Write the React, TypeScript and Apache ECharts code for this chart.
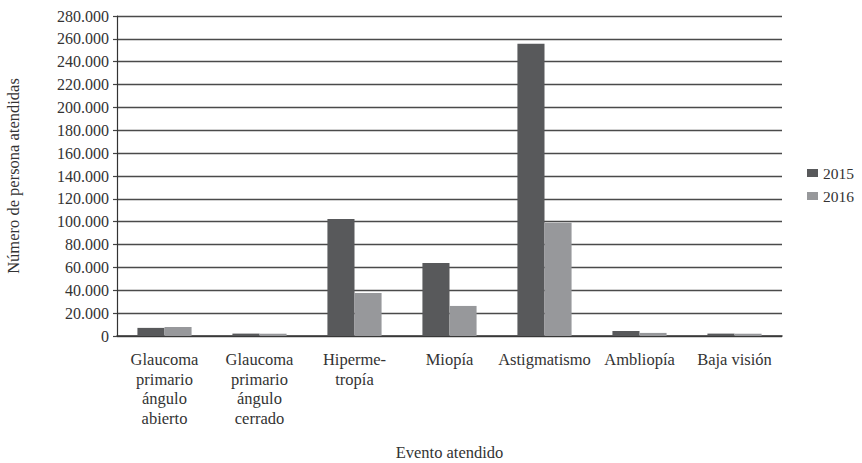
import React, { useEffect, useRef } from "react";
import * as echarts from "echarts";

const categories = [
  "Glaucoma\nprimario\nángulo\nabierto",
  "Glaucoma\nprimario\nángulo\ncerrado",
  "Hiperme-\ntropía",
  "Miopía",
  "Astigmatismo",
  "Ambliopía",
  "Baja visión",
];
const seriesNames = ["2015", "2016"];
const values2015 = [7100, 2100, 102300, 63900, 255700, 4400, 2100];
const values2016 = [7900, 2000, 37600, 26300, 99100, 2700, 2000];
const yMin = 0;
const yMax = 280000;
const yInterval = 20000;

const fmt = (v: number) => String(v).replace(/\B(?=(\d{3})+(?!\d))/g, ".");

export default function App() {
  const ref = useRef<HTMLDivElement>(null);
  useEffect(() => {
    if (!ref.current) return;
    document.documentElement.style.overflow = "hidden";
    document.body.style.overflow = "hidden";
    const chart = echarts.init(ref.current, undefined, { renderer: "svg" });
    const font = "Liberation Serif";
    chart.setOption({
      animation: false,
      backgroundColor: "#ffffff",
      textStyle: { fontFamily: font, color: "#333" },
      grid: {
        left: 117,
        right: 80,
        top: 16,
        bottom: 127,
        containLabel: false,
        outerBoundsMode: "none",
      },
      legend: {
        orient: "vertical",
        left: 802,
        top: 160,
        itemWidth: 11,
        itemHeight: 8,
        itemGap: 7,
        icon: "rect",
        data: seriesNames,
        textStyle: { fontFamily: font, fontSize: 15.5, color: "#333" },
      },
      xAxis: {
        type: "category",
        data: categories,
        name: "Evento atendido",
        nameLocation: "middle",
        nameGap: 108,
        nameTextStyle: { fontFamily: font, fontSize: 16.5, color: "#333" },
        axisLine: { lineStyle: { color: "#333", width: 1.5 } },
        axisTick: { show: false },
        axisLabel: {
          interval: 0,
          fontFamily: font,
          fontSize: 16.5,
          color: "#333",
          lineHeight: 19.5,
          margin: 14,
        },
      },
      yAxis: {
        type: "value",
        min: yMin,
        max: yMax,
        interval: yInterval,
        name: "Número de persona atendidas",
        nameLocation: "middle",
        nameGap: 95,
        nameTextStyle: { fontFamily: font, fontSize: 16.5, color: "#333" },
        axisLine: { show: true, lineStyle: { color: "#333", width: 1.2 } },
        axisTick: { show: true, length: 4, lineStyle: { color: "#444", width: 1.2 } },
        splitLine: { lineStyle: { color: "#4a4a4a", width: 1.3 } },
        axisLabel: {
          fontFamily: font,
          fontSize: 16,
          color: "#333",
          margin: 8,
          formatter: (v: number) => fmt(v),
        },
      },
      series: [
        {
          name: seriesNames[0],
          type: "bar",
          data: values2015,
          itemStyle: { color: "#58595b" },
          barGap: "0%",
          barCategoryGap: "43%",
        },
        {
          name: seriesNames[1],
          type: "bar",
          data: values2016,
          itemStyle: { color: "#97989b" },
          barGap: "0%",
          barCategoryGap: "43%",
        },
      ],
    });
    return () => chart.dispose();
  }, []);
  return (
    <div
      ref={ref}
      style={{ position: "absolute", left: 0, top: 0, width: 862, height: 463, overflow: "hidden" }}
    />
  );
}
